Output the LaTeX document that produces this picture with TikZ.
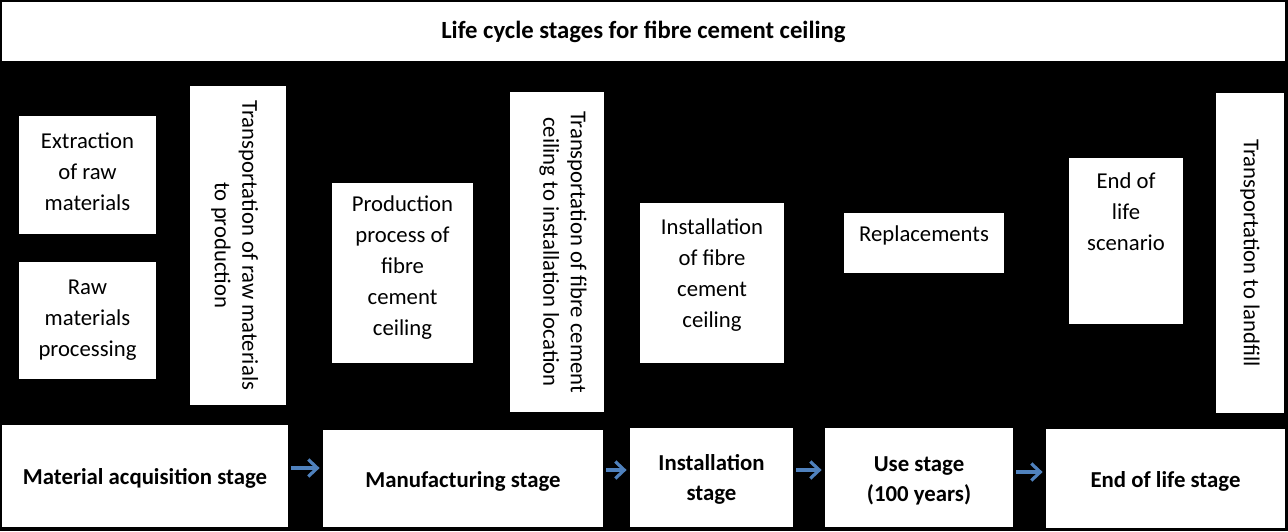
\documentclass[tikz,border=0pt]{standalone}
\usepackage{fontspec}
\setmainfont{Carlito}
\usetikzlibrary{arrows.meta}
\definecolor{arrowblue}{RGB}{79, 129, 189}
\newcommand{\bodyfont}{\fontsize{11.35}{15.5}\selectfont}
\newcommand{\sidefont}{\fontsize{11.35}{13.75}\selectfont}
\newcommand{\stagefont}{\bfseries\fontsize{11.4}{15}\selectfont}
\newcommand{\titlefont}{\bfseries\fontsize{12.35}{15}\selectfont}
% raise the lines of a box without changing its size
\newcommand{\lift}[2]{\raisebox{#1}[\height][\depth]{\begin{tabular}{@{}c@{}}#2\end{tabular}}}

\begin{document}
\begin{tikzpicture}[x=0.5pt, y=-0.5pt,
  box/.style={fill=white, inner sep=0pt, align=center, font=\bodyfont},
  sidebox/.style={box, rotate=-90, font=\sidefont},
  stagebox/.style={box, font=\stagefont},
  flow/.style={-{Straight Barb[length=4.5pt, width=8.5pt]}, line width=1.6pt,
    arrowblue, shorten <=1.5pt, shorten >=1.5pt}]

  \fill[black] (0, 0) rectangle (1288, 531);

  % title
  \node[box, font=\titlefont, minimum width=641.5pt, minimum height=29.5pt] (title)
    at (643.5, 31.5) {Life cycle stages for fibre cement ceiling};

  % processes
  \node[box, minimum width=68.5pt, minimum height=59pt] (extr) at (87.5, 175)
    {\lift{1pt}{Extraction\\of raw\\materials}};
  \node[box, minimum width=68.5pt, minimum height=58.5pt] (rawp) at (87.5, 320.5)
    {Raw\\materials\\processing};
  \node[sidebox, minimum width=159.5pt, minimum height=48pt] (trraw) at (238, 245.5)
    {\lift{-2pt}{Transportation of raw materials\\to production}};
  \node[box, minimum width=70.5pt, minimum height=90pt] (prod) at (402.5, 273)
    {\lift{3pt}{Production\\process of\\fibre\\cement\\ceiling}};
  \node[sidebox, minimum width=160pt, minimum height=47pt] (trceil) at (557, 252)
    {\lift{2.75pt}{Transportation of fibre cement\\ceiling to installation location}};
  \node[box, minimum width=72pt, minimum height=80pt] (inst) at (712, 283)
    {\lift{4pt}{Installation\\of fibre\\cement\\ceiling}};
  \node[box, minimum width=80pt, minimum height=30pt] (repl) at (924, 243)
    {\lift{4pt}{Replacements}};
  \node[box, minimum width=57pt, minimum height=83pt] (eolscen) at (1126, 241)
    {\parbox[c][83pt][t]{57pt}{\centering\vspace{7.5pt}End of\\life\\scenario}};
  \node[sidebox, minimum width=160pt, minimum height=34pt] (trland) at (1250, 253)
    {Transportation to landfill};

  % stages
  \node[stagebox, minimum width=143pt, minimum height=51pt] (mat) at (145, 476)
    {\lift{-1pt}{Material acquisition stage}};
  \node[stagebox, minimum width=140pt, minimum height=48.5pt] (manu) at (463, 478.5)
    {\lift{-1.5pt}{Manufacturing stage}};
  \node[stagebox, minimum width=81.5pt, minimum height=49.5pt] (insst) at (711.5, 477.5)
    {\lift{-1pt}{Installation\\stage}};
  \node[stagebox, minimum width=94pt, minimum height=49.5pt] (use) at (919, 477.5)
    {\lift{-1.5pt}{Use stage\\(100 years)}};
  \node[stagebox, minimum width=119.5pt, minimum height=49.5pt] (eol) at (1165.5, 478.5)
    {\lift{-1.5pt}{End of life stage}};

  \draw[flow] ([yshift=4pt]mat.east) -- ([yshift=4pt]mat.east -| manu.west);
  \draw[flow] ([yshift=4.25pt]manu.east) -- ([yshift=4.25pt]manu.east -| insst.west);
  \draw[flow] ([yshift=3.75pt]insst.east) -- ([yshift=3.75pt]insst.east -| use.west);
  \draw[flow] ([yshift=2.75pt]use.east) -- ([yshift=2.75pt]use.east -| eol.west);

\end{tikzpicture}
\end{document}
